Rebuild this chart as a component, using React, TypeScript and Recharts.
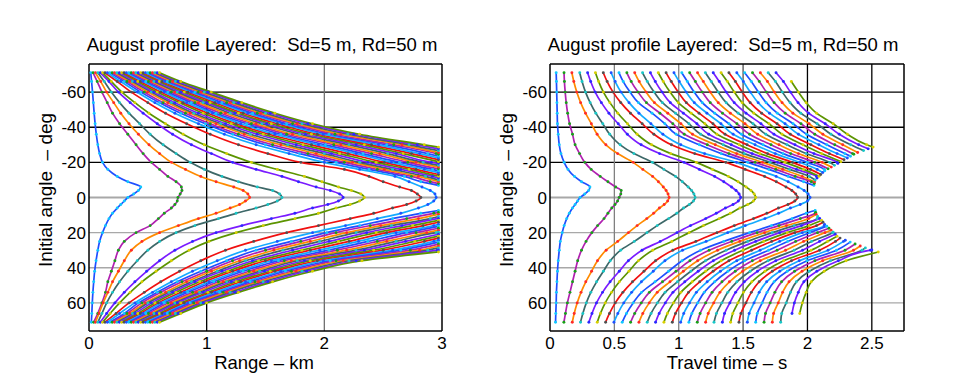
import React from 'react';
import { LineChart, Line, XAxis, YAxis, ReferenceLine } from 'recharts';

const FONT = '"Liberation Sans", Arial, sans-serif';
const N = null;
const E = (n: number) => Array(n).fill(null);

// launch angles (deg) of the sampled rays
const ANG_UP = [-71, -66, -60, -54, -48, -42, -36, -30, -25, -20, -16, -12, -9, -6, -4, -2, 0];
const ANG_LO = [2, 4, 6, 9, 12, 16, 20, 25, 30, 36, 42, 48, 54, 60, 66, 71];

const Y_TICKS = [-60, -40, -20, 0, 20, 40, 60];
const X_TICKS_RANGE = [0, 1, 2, 3];
const X_TICKS_TIME = [0, 0.5, 1, 1.5, 2, 2.5];
const RANGE_LIMIT_KM = 2.97;

// ---------- LEFT: range (km) ----------
const RANGE_TIP_UP = [
  [0.015, 0.022, 0.03, 0.037, 0.044, 0.052, 0.062, 0.075, 0.09, 0.115, 0.16, 0.24, 0.33, 0.44, 0.42, 0.38, 0.33],
  [0.035, 0.07, 0.11, 0.155, 0.2, 0.26, 0.33, 0.4, 0.46, 0.53, 0.6, 0.67, 0.74, 0.785, 0.79, 0.775, 0.756],
  [0.055, 0.1, 0.15, 0.21, 0.27, 0.34, 0.42, 0.51, 0.6, 0.7, 0.82, 0.95, 1.08, 1.23, 1.31, 1.35, 1.365],
  [0.076, 0.13, 0.19, 0.26, 0.34, 0.43, 0.52, 0.63, 0.74, 0.86, 0.98, 1.13, 1.27, 1.43, 1.56, 1.62, 1.64],
  [0.096, 0.17, 0.25, 0.35, 0.46, 0.58, 0.71, 0.87, 1.04, 1.22, 1.42, 1.64, 1.78, 1.93, 2.05, 2.13, 2.16],
  [0.116, 0.19, 0.28, 0.39, 0.51, 0.65, 0.8, 0.98, 1.17, 1.38, 1.6, 1.83, 1.98, 2.12, 2.23, 2.31, 2.34],
  [0.136, 0.24, 0.36, 0.5, 0.65, 0.83, 1.03, 1.27, 1.52, 1.8, 2.17, 2.38, 2.5, 2.64, 2.74, 2.79, 2.82],
  [0.156, 0.27, 0.41, 0.56, 0.73, 0.93, 1.15, 1.42, 1.7, 2.0, 2.3, 2.6, 2.72, 2.83, 2.9, 2.94, 2.95],
];
const RANGE_TIP_LO = [
  [0.3, 0.27, 0.24, 0.2, 0.17, 0.14, 0.115, 0.09, 0.075, 0.06, 0.048, 0.04, 0.033, 0.028, 0.024, 0.02],
  [0.75, 0.73, 0.7, 0.64, 0.59, 0.52, 0.4, 0.3, 0.25, 0.22, 0.19, 0.16, 0.14, 0.11, 0.075, 0.04],
  [1.33, 1.28, 1.2, 1.08, 0.93, 0.76, 0.6, 0.45, 0.36, 0.3, 0.25, 0.2, 0.16, 0.12, 0.085, 0.055],
  [1.6, 1.52, 1.42, 1.25, 1.1, 0.9, 0.74, 0.6, 0.5, 0.41, 0.33, 0.26, 0.2, 0.15, 0.11, 0.076],
  [2.12, 2.03, 1.9, 1.75, 1.55, 1.3, 1.08, 0.88, 0.73, 0.6, 0.49, 0.39, 0.3, 0.22, 0.15, 0.096],
  [2.3, 2.22, 2.1, 1.95, 1.75, 1.48, 1.25, 1.02, 0.85, 0.7, 0.57, 0.45, 0.35, 0.26, 0.18, 0.116],
  [2.78, 2.7, 2.58, 2.42, 2.22, 1.95, 1.68, 1.4, 1.16, 0.95, 0.77, 0.61, 0.47, 0.34, 0.23, 0.136],
  [2.93, 2.88, 2.8, 2.65, 2.45, 2.18, 1.9, 1.6, 1.33, 1.09, 0.88, 0.7, 0.54, 0.39, 0.26, 0.156],
];
const RANGE_UP_ROWS = [
  [0.177, 0.197, 0.217, 0.238, 0.258, 0.278, 0.298, 0.318, 0.339, 0.359, 0.379, 0.399, 0.419, 0.44, 0.46, 0.48, 0.5, 0.52, 0.54, 0.56, 0.58, 0.6],
  [0.3, 0.323, 0.346, 0.369, 0.392, 0.415, 0.437, 0.46, 0.483, 0.506, 0.529, 0.552, 0.575, 0.598, 0.621, 0.643, 0.666, 0.689, 0.712, 0.735, 0.758, 0.78],
  [0.44, 0.47, 0.5, 0.53, 0.55, 0.58, 0.61, 0.64, 0.67, 0.7, 0.73, 0.75, 0.78, 0.81, 0.84, 0.87, 0.9, 0.93, 0.95, 0.98, 1.01, 1.04],
  [0.6, 0.63, 0.67, 0.7, 0.73, 0.77, 0.8, 0.83, 0.87, 0.9, 0.93, 0.97, 1.0, 1.03, 1.07, 1.1, 1.13, 1.17, 1.2, 1.23, 1.27, 1.3],
  [0.78, 0.82, 0.86, 0.89, 0.93, 0.97, 1.01, 1.05, 1.08, 1.12, 1.16, 1.2, 1.24, 1.27, 1.31, 1.35, 1.39, 1.43, 1.46, 1.5, 1.54, 1.58],
  [0.99, 1.03, 1.08, 1.12, 1.16, 1.21, 1.25, 1.29, 1.34, 1.38, 1.42, 1.47, 1.51, 1.55, 1.6, 1.64, 1.68, 1.73, 1.77, 1.81, 1.86, 1.9],
  [1.22, 1.27, 1.32, 1.37, 1.43, 1.48, 1.53, 1.58, 1.63, 1.68, 1.73, 1.79, 1.84, 1.89, 1.94, 1.99, 2.04, 2.09, 2.14, 2.2, 2.25, 2.3],
  [1.5, 1.56, 1.63, 1.69, 1.76, 1.82, 1.89, 1.95, 2.01, 2.08, 2.14, 2.21, 2.27, 2.34, 2.4, 2.46, 2.53, 2.59, 2.66, 2.72, 2.79, 2.85],
  [1.79, 1.86, 1.93, 2.0, 2.06, 2.13, 2.2, 2.27, 2.33, 2.4, 2.47, 2.54, 2.61, 2.67, 2.74, 2.81, 2.88, 2.95, N, N, N, N],
  [2.1, 2.17, 2.24, 2.3, 2.37, 2.44, 2.51, 2.57, 2.64, 2.71, 2.78, 2.84, 2.91, ...E(9)],
  [2.38, 2.45, 2.51, 2.58, 2.65, 2.72, 2.78, 2.85, 2.92, ...E(13)],
  [2.68, 2.74, 2.8, 2.86, 2.92, ...E(17)],
  [2.82, 2.9, ...E(20)],
  E(22), E(22), E(22), E(22),
];
const RANGE_LO_ROWS = [
  E(22), E(22), E(22),
  [2.82, 2.93, ...E(20)],
  [2.58, 2.7, 2.8, 2.9, ...E(18)],
  [2.3, 2.39, 2.48, 2.57, 2.66, 2.75, 2.84, 2.93, ...E(14)],
  [2.02, 2.1, 2.19, 2.27, 2.36, 2.44, 2.53, 2.61, 2.7, 2.78, 2.87, 2.95, ...E(10)],
  [1.72, 1.8, 1.88, 1.96, 2.04, 2.12, 2.21, 2.29, 2.37, 2.45, 2.53, 2.61, 2.69, 2.77, 2.85, 2.93, ...E(6)],
  [1.42, 1.5, 1.57, 1.65, 1.73, 1.81, 1.88, 1.96, 2.04, 2.11, 2.19, 2.27, 2.34, 2.42, 2.5, 2.58, 2.65, 2.73, 2.81, 2.88, 2.96, N],
  [1.17, 1.22, 1.28, 1.33, 1.39, 1.44, 1.5, 1.55, 1.61, 1.66, 1.72, 1.77, 1.83, 1.88, 1.94, 1.99, 2.05, 2.1, 2.16, 2.21, 2.27, 2.32],
  [0.95, 1.0, 1.04, 1.09, 1.13, 1.18, 1.22, 1.27, 1.31, 1.36, 1.4, 1.45, 1.49, 1.54, 1.58, 1.63, 1.67, 1.72, 1.76, 1.81, 1.85, 1.9],
  [0.75, 0.79, 0.83, 0.87, 0.9, 0.94, 0.98, 1.02, 1.06, 1.1, 1.14, 1.17, 1.21, 1.25, 1.29, 1.33, 1.37, 1.41, 1.44, 1.48, 1.52, 1.56],
  [0.58, 0.61, 0.65, 0.68, 0.71, 0.74, 0.78, 0.81, 0.84, 0.88, 0.91, 0.94, 0.97, 1.01, 1.04, 1.07, 1.11, 1.14, 1.17, 1.2, 1.24, 1.27],
  [0.42, 0.45, 0.48, 0.5, 0.53, 0.56, 0.59, 0.61, 0.64, 0.67, 0.7, 0.73, 0.75, 0.78, 0.81, 0.84, 0.86, 0.89, 0.92, 0.95, 0.97, 1.0],
  [0.3, 0.323, 0.346, 0.369, 0.392, 0.415, 0.437, 0.46, 0.483, 0.506, 0.529, 0.552, 0.575, 0.598, 0.621, 0.643, 0.666, 0.689, 0.712, 0.735, 0.758, 0.78],
  [0.177, 0.197, 0.217, 0.238, 0.258, 0.278, 0.298, 0.318, 0.339, 0.359, 0.379, 0.399, 0.419, 0.44, 0.46, 0.48, 0.5, 0.52, 0.54, 0.56, 0.58, 0.6],
];
const UP_END_ANG = [-6.9, -7.9, -9.0, -10.0, -11.1, -12.1, -13.1, -14.2, -15.2, -16.3, -17.3, -18.3, -19.4, -20.4, -21.5, -22.5, -23.5, -24.6, -25.6, -26.7, -27.7, -28.7];
const LO_END_ANG = [7.4, 8.5, 9.6, 10.8, 11.9, 13.0, 14.1, 15.3, 16.4, 17.5, 18.6, 19.8, 20.9, 22.0, 23.1, 24.3, 25.4, 26.5, 27.6, 28.7, 29.9, 31.0];

// ---------- RIGHT: travel time (s) ----------
const TIME_TIP_UP = [
  [0.048, 0.05, 0.052, 0.054, 0.056, 0.058, 0.064, 0.072, 0.085, 0.11, 0.14, 0.19, 0.245, 0.31, 0.3, 0.27, 0.234],
  [0.109, 0.112, 0.118, 0.126, 0.137, 0.152, 0.175, 0.195, 0.23, 0.27, 0.32, 0.39, 0.45, 0.51, 0.553, 0.55, 0.537],
  [0.17, 0.185, 0.208, 0.238, 0.276, 0.321, 0.366, 0.434, 0.525, 0.646, 0.721, 0.797, 0.842, 0.88, 0.902, 0.917, 0.925],
  [0.231, 0.249, 0.276, 0.312, 0.356, 0.41, 0.464, 0.545, 0.652, 0.795, 0.885, 0.975, 1.028, 1.073, 1.1, 1.118, 1.127],
  [0.292, 0.316, 0.351, 0.399, 0.458, 0.53, 0.601, 0.708, 0.851, 1.041, 1.16, 1.279, 1.35, 1.41, 1.445, 1.469, 1.481],
  [0.353, 0.378, 0.415, 0.465, 0.527, 0.602, 0.677, 0.789, 0.938, 1.137, 1.262, 1.386, 1.461, 1.523, 1.561, 1.586, 1.598],
  [0.414, 0.444, 0.49, 0.55, 0.625, 0.716, 0.807, 0.943, 1.124, 1.365, 1.516, 1.667, 1.758, 1.833, 1.879, 1.909, 1.924],
  [0.475, 0.506, 0.552, 0.614, 0.691, 0.784, 0.877, 1.016, 1.201, 1.448, 1.603, 1.757, 1.85, 1.927, 1.974, 2.005, 2.02],
];
const TIME_TIP_LO = [
  [0.215, 0.195, 0.175, 0.15, 0.13, 0.11, 0.095, 0.08, 0.072, 0.064, 0.058, 0.054, 0.05, 0.048, 0.045, 0.043],
  [0.525, 0.505, 0.48, 0.45, 0.42, 0.37, 0.325, 0.28, 0.245, 0.215, 0.195, 0.175, 0.155, 0.135, 0.12, 0.108],
  [0.914, 0.887, 0.85, 0.805, 0.752, 0.677, 0.609, 0.526, 0.436, 0.369, 0.323, 0.278, 0.241, 0.211, 0.188, 0.173],
  [1.114, 1.083, 1.038, 0.985, 0.922, 0.833, 0.753, 0.655, 0.549, 0.468, 0.415, 0.362, 0.317, 0.282, 0.255, 0.237],
  [1.463, 1.422, 1.363, 1.292, 1.21, 1.092, 0.986, 0.856, 0.715, 0.609, 0.538, 0.467, 0.408, 0.361, 0.326, 0.302],
  [1.58, 1.536, 1.475, 1.401, 1.315, 1.192, 1.081, 0.946, 0.798, 0.687, 0.613, 0.539, 0.478, 0.429, 0.392, 0.367],
  [1.902, 1.849, 1.775, 1.685, 1.581, 1.432, 1.297, 1.133, 0.954, 0.82, 0.73, 0.641, 0.566, 0.507, 0.462, 0.432],
  [2.0, 1.944, 1.868, 1.776, 1.67, 1.517, 1.38, 1.213, 1.03, 0.893, 0.802, 0.71, 0.634, 0.573, 0.527, 0.497],
];
const TIME_UP_ROWS = [
  [0.536, 0.597, 0.658, 0.719, 0.78, 0.841, 0.902, 0.963, 1.024, 1.085, 1.146, 1.207, 1.268, 1.329, 1.39, 1.451, 1.512, 1.573, 1.634, 1.695, 1.756, N],
  [0.569, 0.631, 0.693, 0.756, 0.818, 0.88, 0.942, 1.004, 1.067, 1.129, 1.191, 1.253, 1.315, 1.378, 1.44, 1.502, 1.564, 1.626, 1.689, 1.751, 1.813, 1.875],
  [0.622, 0.684, 0.747, 0.809, 0.871, 0.933, 0.996, 1.058, 1.12, 1.183, 1.245, 1.307, 1.369, 1.432, 1.494, 1.556, 1.619, 1.681, 1.743, 1.805, 1.868, 1.93],
  [0.687, 0.749, 0.811, 0.873, 0.935, 0.997, 1.059, 1.121, 1.183, 1.245, 1.307, 1.369, 1.431, 1.493, 1.555, 1.617, 1.679, 1.741, 1.803, 1.865, 1.927, 1.99],
  [0.793, 0.854, 0.915, 0.975, 1.036, 1.097, 1.158, 1.219, 1.279, 1.34, 1.401, 1.462, 1.523, 1.583, 1.644, 1.705, 1.766, 1.827, 1.887, 1.948, 2.009, 2.07],
  [0.892, 0.954, 1.017, 1.079, 1.141, 1.203, 1.266, 1.328, 1.39, 1.452, 1.515, 1.577, 1.639, 1.701, 1.764, 1.826, 1.888, 1.95, 2.013, 2.075, 2.138, 2.2],
  [0.98, 1.043, 1.107, 1.17, 1.233, 1.297, 1.36, 1.423, 1.487, 1.55, 1.613, 1.677, 1.74, 1.803, 1.867, 1.93, 1.993, 2.057, 2.12, 2.183, 2.247, 2.31],
  [1.16, 1.222, 1.284, 1.346, 1.408, 1.47, 1.531, 1.593, 1.655, 1.717, 1.779, 1.841, 1.903, 1.965, 2.027, 2.089, 2.15, 2.212, 2.274, 2.336, 2.398, 2.46],
  [1.33, 1.39, 1.45, 1.51, 1.57, 1.63, 1.69, 1.75, 1.81, 1.87, 1.93, 1.99, 2.05, 2.11, 2.17, 2.23, 2.29, 2.35, N, N, N, N],
  [1.535, 1.593, 1.651, 1.709, 1.767, 1.825, 1.883, 1.941, 1.999, 2.056, 2.114, 2.172, 2.23, ...E(9)],
  [1.7, 1.754, 1.808, 1.861, 1.915, 1.969, 2.023, 2.076, 2.13, ...E(13)],
  [1.85, 1.905, 1.96, 2.015, 2.07, ...E(17)],
  [1.97, 2.03, ...E(20)],
  E(22), E(22), E(22), E(22),
];
const TIME_LO_ROWS = [
  E(22), E(22), E(22),
  [1.99, 2.06, ...E(20)],
  [1.88, 1.945, 2.01, 2.075, ...E(18)],
  [1.72, 1.779, 1.837, 1.896, 1.954, 2.013, 2.071, 2.13, ...E(14)],
  [1.55, 1.609, 1.667, 1.726, 1.784, 1.843, 1.902, 1.96, 2.019, 2.078, 2.136, 2.195, ...E(10)],
  [1.35, 1.412, 1.474, 1.536, 1.598, 1.66, 1.722, 1.784, 1.846, 1.908, 1.97, 2.032, 2.094, 2.156, 2.218, 2.28, ...E(6)],
  [1.17, 1.236, 1.302, 1.368, 1.434, 1.5, 1.566, 1.632, 1.698, 1.764, 1.83, 1.896, 1.962, 2.028, 2.094, 2.16, 2.226, 2.292, 2.358, 2.424, 2.49, N],
  [1.026, 1.087, 1.147, 1.208, 1.269, 1.33, 1.39, 1.451, 1.512, 1.572, 1.633, 1.694, 1.754, 1.815, 1.876, 1.936, 1.997, 2.058, 2.118, 2.179, 2.24, 2.3],
  [0.921, 0.979, 1.036, 1.094, 1.151, 1.209, 1.267, 1.324, 1.382, 1.439, 1.497, 1.555, 1.612, 1.67, 1.727, 1.785, 1.843, 1.9, 1.958, 2.015, 2.073, 2.13],
  [0.816, 0.874, 0.932, 0.99, 1.047, 1.105, 1.163, 1.221, 1.279, 1.336, 1.394, 1.452, 1.51, 1.568, 1.625, 1.683, 1.741, 1.799, 1.857, 1.914, 1.972, 2.03],
  [0.711, 0.772, 0.833, 0.894, 0.955, 1.016, 1.076, 1.137, 1.198, 1.259, 1.32, 1.381, 1.442, 1.503, 1.564, 1.625, 1.686, 1.747, 1.807, 1.868, 1.929, 1.99],
  [0.646, 0.709, 0.771, 0.834, 0.896, 0.959, 1.022, 1.084, 1.147, 1.209, 1.272, 1.335, 1.397, 1.46, 1.522, 1.585, 1.648, 1.71, 1.773, 1.835, 1.898, 1.96],
  [0.594, 0.658, 0.721, 0.785, 0.848, 0.912, 0.975, 1.039, 1.102, 1.166, 1.229, 1.293, 1.356, 1.42, 1.483, 1.547, 1.61, 1.674, 1.737, 1.8, 1.88, 1.94],
  [0.561, 0.626, 0.691, 0.755, 0.82, 0.885, 0.95, 1.015, 1.079, 1.144, 1.209, 1.274, 1.339, 1.403, 1.468, 1.533, 1.598, 1.663, 1.727, 1.792, N, N],
];
const UP_END_TIME = [2.05, 2.053, 2.056, 2.06, 2.075, 2.09, 2.103, 2.119, 2.135, 2.16, 2.185, 2.21, 2.236, 2.26, 2.284, 2.31, 2.334, 2.36, 2.39, 2.436, 2.472, 2.51];
const LO_END_TIME = [2.06, 2.064, 2.068, 2.08, 2.095, 2.11, 2.121, 2.133, 2.15, 2.167, 2.183, 2.2, 2.216, 2.23, 2.253, 2.294, 2.332, 2.37, 2.41, 2.45, 2.5, 2.55];

const LINE_COLORS = ['#1f4fff', '#b020b0', '#ff8a00', '#3d6868', '#7a1cff', '#5c9400', '#f01010', '#14aaff'];
const DOT_COLORS = ['#10c8ff', '#18a018', '#ff2a2a', '#18c8c8', '#2a2aff', '#d8d000', '#505050', '#2050ff'];

type Pt = { a: number; v: number };
type Curve = { k: number; pts: Pt[] };

function buildCurves(
  tipUp: number[][], tipLo: number[][],
  upRows: (number | null)[][], loRows: (number | null)[][],
  upEndVal: (j: number) => number, loEndVal: (j: number) => number,
): Curve[] {
  const out: Curve[] = [];
  for (let j = 0; j < 22; j++) {
    const pts: Pt[] = [];
    ANG_UP.forEach((a, i) => { const v = upRows[i][j]; if (v != null) pts.push({ a, v }); });
    pts.push({ a: UP_END_ANG[j], v: upEndVal(j) });
    out.push({ k: j + 8, pts });
    const lp: Pt[] = [{ a: LO_END_ANG[j], v: loEndVal(j) }];
    ANG_LO.forEach((a, i) => { const v = loRows[i][j]; if (v != null) lp.push({ a, v }); });
    out.push({ k: j + 8, pts: lp });
  }
  for (let k = 0; k < tipUp.length; k++) {
    const pts: Pt[] = [];
    ANG_UP.forEach((a, i) => pts.push({ a, v: tipUp[k][i] }));
    ANG_LO.forEach((a, i) => pts.push({ a, v: tipLo[k][i] }));
    out.push({ k, pts });
  }
  return out;
}

const RANGE_CURVES = buildCurves(RANGE_TIP_UP, RANGE_TIP_LO, RANGE_UP_ROWS, RANGE_LO_ROWS, () => RANGE_LIMIT_KM, () => RANGE_LIMIT_KM);
const TIME_CURVES = buildCurves(TIME_TIP_UP, TIME_TIP_LO, TIME_UP_ROWS, TIME_LO_ROWS, (j) => UP_END_TIME[j], (j) => LO_END_TIME[j]);

const hGridColor = (y: number) => (y < 0 ? '#000' : '#a8a8a8');

type PanelProps = {
  left: number; width: number; marginRight: number;
  xDomain: [number, number]; xTicks: number[];
  vGrid: { x: number; color: string }[];
  curves: Curve[];
};

function Panel({ left, width, marginRight, xDomain, xTicks, vGrid, curves }: PanelProps) {
  const tickStyle = { fill: '#000', fontSize: 17, fontFamily: FONT };
  return (
    <div style={{ position: 'absolute', left, top: 0 }}>
      <LineChart width={width} height={384} margin={{ top: 64, right: marginRight, bottom: 23, left: 0 }}>
        <XAxis type="number" dataKey="v" domain={xDomain} ticks={xTicks} interval={0} allowDataOverflow
          tickLine={false} tickSize={2} tickMargin={4} height={30}
          axisLine={{ stroke: '#000', strokeWidth: 1.5 }} tick={tickStyle} />
        <YAxis type="number" domain={[-76, 76]} reversed ticks={Y_TICKS} interval={0} allowDataOverflow
          width={50} tickLine={false} tickSize={2} tickMargin={1}
          axisLine={{ stroke: '#000', strokeWidth: 1.5 }} tick={tickStyle} />
        {Y_TICKS.map((y) => (
          <ReferenceLine key={'h' + y} y={y} stroke={hGridColor(y)} strokeWidth={y === 0 ? 2 : 1.3} zIndex={-100} />
        ))}
        {vGrid.map((g) => (
          <ReferenceLine key={'v' + g.x} x={g.x} stroke={g.color} strokeWidth={1.3} zIndex={-100} />
        ))}
        <ReferenceLine y={-76} stroke="#000" strokeWidth={1.5} />
        <ReferenceLine x={xDomain[1]} stroke="#000" strokeWidth={1.5} />
        {curves.map((c, i) => (
          <Line key={i} data={c.pts} dataKey="a" type="monotoneY"
            stroke={LINE_COLORS[c.k % 8]} strokeWidth={1.7}
            dot={{ r: 1.45, fill: DOT_COLORS[c.k % 8], stroke: 'none', strokeWidth: 0 }}
            activeDot={false} isAnimationActive={false} />
        ))}
      </LineChart>
    </div>
  );
}

const TITLE = 'August profile Layered:  Sd=5 m, Rd=50 m';

export default function App() {
  const txt = { fontFamily: FONT, fill: '#000', whiteSpace: 'pre' as const };
  return (
    <div style={{ position: 'absolute', left: 0, top: 0, width: 966, height: 384, background: '#fff', overflow: 'hidden' }}>
      <Panel left={39} width={421} marginRight={18} xDomain={[0, 3]} xTicks={X_TICKS_RANGE}
        vGrid={[{ x: 1, color: '#000' }, { x: 2, color: '#707070' }]} curves={RANGE_CURVES} />
      <Panel left={500} width={420} marginRight={16} xDomain={[0, 2.75]} xTicks={X_TICKS_TIME}
        vGrid={[{ x: 0.5, color: '#808080' }, { x: 1, color: '#808080' }, { x: 1.5, color: '#505050' }, { x: 2, color: '#000' }, { x: 2.5, color: '#000' }]}
        curves={TIME_CURVES} />
      <svg width={966} height={384} style={{ position: 'absolute', left: 0, top: 0, pointerEvents: 'none' }}>
        <text x={262} y={51} textAnchor="middle" fontSize={18.5} style={txt}>{TITLE}</text>
        <text x={723} y={51} textAnchor="middle" fontSize={18.5} style={txt}>{TITLE}</text>
        <text x={264} y={369} textAnchor="middle" fontSize={18.5} style={txt}>Range – km</text>
        <text x={727} y={369} textAnchor="middle" fontSize={18.5} style={txt}>Travel time – s</text>
        <text x={0} y={0} textAnchor="middle" fontSize={19} style={txt} transform="translate(52,190) rotate(-90)">Initial angle  – deg</text>
        <text x={0} y={0} textAnchor="middle" fontSize={19} style={txt} transform="translate(513,190) rotate(-90)">Initial angle  – deg</text>
      </svg>
    </div>
  );
}
